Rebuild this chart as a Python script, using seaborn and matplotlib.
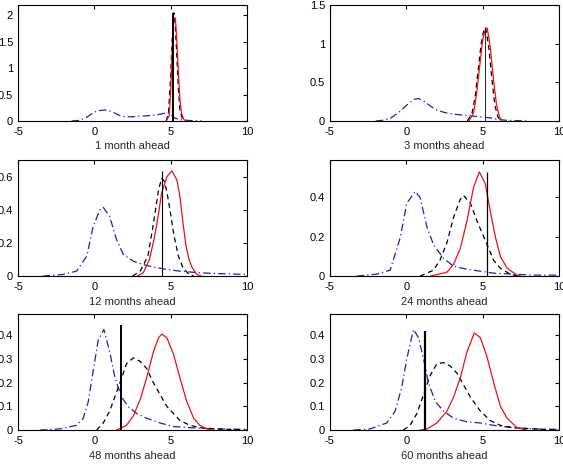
import numpy as np
import pandas as pd
import matplotlib
matplotlib.use("Agg")
import matplotlib.pyplot as plt
import seaborn as sns

# panel titles, vertical marker (position, height), y-axis setup
titles = ["1 month ahead", "3 months ahead", "12 months ahead",
          "24 months ahead", "48 months ahead", "60 months ahead"]
vline_x = [5.15, 5.15, 4.45, 5.3, 1.72, 1.2]
vline_h = [2.05, 1.2, 0.635, 0.53, 0.443, 0.42]
y_top = [2.2, 1.5, 0.7, 0.59, 0.49, 0.49]
y_ticks = [[0, 0.5, 1, 1.5, 2], [0, 0.5, 1, 1.5], [0, 0.2, 0.4, 0.6],
           [0, 0.2, 0.4], [0, 0.1, 0.2, 0.3, 0.4], [0, 0.1, 0.2, 0.3, 0.4]]

# red solid curves (x, density)
red_1 = [(4.7, 0), (4.9, 0.1), (5.0, 0.6), (5.1, 1.4), (5.2, 1.95), (5.3, 1.95),
         (5.4, 1.5), (5.5, 0.9), (5.6, 0.4), (5.7, 0.15), (5.85, 0.03), (6.0, 0)]
red_3 = [(4.1, 0), (4.4, 0.1), (4.6, 0.35), (4.8, 0.7), (5.0, 1.05), (5.2, 1.2),
         (5.3, 1.2), (5.5, 0.95), (5.7, 0.55), (5.9, 0.22), (6.1, 0.05), (6.3, 0)]
red_12 = [(2.8, 0), (3.2, 0.02), (3.6, 0.1), (3.9, 0.22), (4.1, 0.32), (4.4, 0.5),
          (4.75, 0.6), (5.07, 0.635), (5.4, 0.58), (5.6, 0.48), (5.8, 0.32),
          (6.0, 0.18), (6.2, 0.1), (6.4, 0.05), (6.7, 0.01), (7.0, 0)]
red_24 = [(1.6, 0), (2.66, 0.02), (3.1, 0.06), (3.53, 0.14), (3.97, 0.28),
          (4.4, 0.45), (4.78, 0.53), (5.17, 0.47), (5.5, 0.33), (5.83, 0.2),
          (6.16, 0.1), (6.6, 0.04), (7.25, 0.005), (7.5, 0)]
red_48 = [(1.45, 0), (2.1, 0.02), (2.55, 0.06), (3.0, 0.13), (3.42, 0.22),
          (3.86, 0.33), (4.2, 0.39), (4.41, 0.405), (4.74, 0.39), (5.18, 0.32),
          (5.6, 0.22), (6.05, 0.12), (6.5, 0.05), (6.9, 0.02), (7.36, 0.005), (7.8, 0)]
red_60 = [(0.9, 0), (1.35, 0.005), (2.0, 0.03), (2.66, 0.08), (3.1, 0.14),
          (3.53, 0.22), (3.97, 0.33), (4.45, 0.41), (4.85, 0.39), (5.28, 0.31),
          (5.72, 0.2), (6.16, 0.1), (6.6, 0.05), (7.25, 0.01), (7.9, 0)]

# black dashed curves
blk_1 = [(4.7, 0), (4.85, 0.15), (5.0, 0.9), (5.1, 1.6), (5.2, 2.05), (5.3, 1.8),
         (5.4, 1.2), (5.5, 0.6), (5.6, 0.2), (5.75, 0.05), (5.9, 0)]
blk_3 = [(4.0, 0), (4.3, 0.1), (4.5, 0.3), (4.7, 0.65), (4.9, 1.0), (5.1, 1.2),
         (5.2, 1.2), (5.4, 0.95), (5.6, 0.55), (5.8, 0.2), (6.0, 0.05), (6.2, 0)]
blk_12 = [(2.5, 0), (3.0, 0.03), (3.5, 0.12), (3.8, 0.28), (4.0, 0.4), (4.2, 0.52),
          (4.4, 0.59), (4.6, 0.57), (4.8, 0.48), (5.0, 0.37), (5.2, 0.25),
          (5.5, 0.12), (5.8, 0.05), (6.2, 0.01), (6.5, 0)]
blk_24 = [(0.9, 0), (1.78, 0.03), (2.2, 0.08), (2.66, 0.17), (3.1, 0.3),
          (3.53, 0.39), (3.75, 0.41), (4.2, 0.37), (4.63, 0.28), (5.07, 0.2),
          (5.4, 0.14), (5.72, 0.08), (6.16, 0.04), (6.8, 0.01), (7.3, 0)]
blk_48 = [(0.14, 0), (0.58, 0.03), (1.0, 0.08), (1.45, 0.16), (1.78, 0.22),
          (2.1, 0.28), (2.55, 0.305), (3.0, 0.29), (3.42, 0.26), (3.86, 0.2),
          (4.3, 0.15), (4.74, 0.1), (5.18, 0.07), (5.6, 0.04), (6.27, 0.02),
          (6.9, 0.01), (8.0, 0.005), (10.0, 0)]
blk_60 = [(-0.19, 0), (0.25, 0.02), (0.69, 0.07), (1.13, 0.15), (1.56, 0.23),
          (2.0, 0.28), (2.44, 0.285), (2.88, 0.27), (3.32, 0.24), (3.75, 0.19),
          (4.19, 0.14), (4.85, 0.08), (5.5, 0.04), (6.16, 0.02), (7.0, 0.01),
          (8.35, 0.005), (10.0, 0)]

# blue dash-dot curves
blu_1 = [(-1.5, 0), (-1.0, 0.01), (-0.5, 0.07), (0.0, 0.17), (0.4, 0.2), (0.8, 0.21),
         (1.2, 0.17), (1.6, 0.11), (2.0, 0.08), (2.5, 0.08), (3.0, 0.09), (3.5, 0.1),
         (4.0, 0.11), (4.5, 0.14), (4.8, 0.16), (5.0, 0.12), (5.3, 0.05),
         (5.7, 0.02), (6.2, 0.01), (7.0, 0)]
blu_3 = [(-2.0, 0), (-1.5, 0.01), (-1.0, 0.04), (-0.5, 0.11), (0.0, 0.2), (0.5, 0.28),
         (0.8, 0.29), (1.2, 0.25), (1.6, 0.19), (2.0, 0.14), (2.5, 0.11), (3.0, 0.09),
         (3.5, 0.08), (4.0, 0.07), (4.5, 0.06), (5.0, 0.05), (5.5, 0.04), (6.0, 0.02),
         (6.5, 0.01), (7.0, 0.005), (8.0, 0)]
blu_12 = [(-3.4, 0), (-2.05, 0.01), (-1.17, 0.03), (-0.5, 0.12), (-0.08, 0.3),
          (0.36, 0.4), (0.58, 0.415), (1.0, 0.36), (1.45, 0.22), (1.9, 0.13),
          (2.55, 0.09), (3.2, 0.07), (3.86, 0.055), (4.74, 0.04), (5.6, 0.03),
          (6.9, 0.02), (8.2, 0.015), (10.0, 0.01)]
blu_24 = [(-3.25, 0), (-1.94, 0.01), (-1.06, 0.03), (-0.4, 0.195), (0.03, 0.37),
          (0.58, 0.43), (0.9, 0.4), (1.35, 0.25), (1.78, 0.16), (2.44, 0.09),
          (3.1, 0.05), (3.97, 0.035), (4.85, 0.025), (5.72, 0.015), (7.0, 0.01),
          (8.3, 0.005), (10.0, 0.005)]
blu_48 = [(-3.58, 0), (-2.26, 0.005), (-1.17, 0.02), (-0.73, 0.05), (-0.4, 0.12),
          (-0.08, 0.25), (0.25, 0.38), (0.62, 0.425), (1.0, 0.33), (1.35, 0.22),
          (1.78, 0.14), (2.2, 0.1), (2.77, 0.07), (3.42, 0.05), (4.3, 0.03),
          (5.18, 0.015), (6.27, 0.01), (8.0, 0.005), (10.0, 0.003)]
blu_60 = [(-3.47, 0), (-2.37, 0.005), (-1.28, 0.03), (-0.73, 0.08), (-0.3, 0.18),
          (0.03, 0.3), (0.47, 0.425), (0.8, 0.39), (1.13, 0.3), (1.45, 0.2),
          (1.9, 0.12), (2.44, 0.08), (3.1, 0.05), (3.97, 0.035), (4.85, 0.03),
          (5.72, 0.02), (7.0, 0.01), (8.35, 0.005), (10.0, 0.003)]

reds = [red_1, red_3, red_12, red_24, red_48, red_60]
blks = [blk_1, blk_3, blk_12, blk_24, blk_48, blk_60]
blus = [blu_1, blu_3, blu_12, blu_24, blu_48, blu_60]

vline_lw = [1.4, 0.6, 0.8, 0.9, 1.4, 1.6]

sns.set_theme(style="white")
plt.rcParams['font.family'] = ['Liberation Sans', 'DejaVu Sans']
plt.rcParams['font.size'] = 8
plt.rcParams['axes.unicode_minus'] = False

fig = plt.figure(figsize=(5.63, 4.68), dpi=100)
lefts = [0.032, 0.586]
bottoms = [0.7415, 0.410, 0.081]

for i in range(6):
    ax = fig.add_axes([lefts[i % 2], bottoms[i // 2], 0.407, 0.248])
    for pts, col, ls in [(blus[i], '#1f1fbf', (0, (6, 2.5, 1, 2.5))),
                         (blks[i], 'black', (0, (4, 3))),
                         (reds[i], '#f01010', '-')]:
        df = pd.DataFrame(pts, columns=['x', 'y'])
        sns.lineplot(data=df, x='x', y='y', color=col, linestyle=ls,
                     linewidth=0.9, ax=ax, sort=False, estimator=None)
    ax.vlines(vline_x[i], 0, vline_h[i], color='black', linewidth=vline_lw[i])
    ax.set_xlim(-5, 10)
    ax.set_ylim(0, y_top[i])
    ax.set_xticks([-5, 0, 5, 10])
    ax.set_yticks(y_ticks[i])
    ax.set_yticklabels([f"{v:g}" for v in y_ticks[i]])
    ax.set_xlabel(titles[i], fontsize=8, labelpad=3)
    ax.set_ylabel('')
    ax.tick_params(direction='in', length=3, width=0.8, top=True, right=True,
                   labelsize=8, colors='black')
    ax.tick_params(axis='x', pad=4.5)
    ax.tick_params(axis='y', pad=3.5)
    for s in ax.spines.values():
        s.set_color('black')
        s.set_linewidth(0.8)

fig.savefig('out.png', dpi=100)
